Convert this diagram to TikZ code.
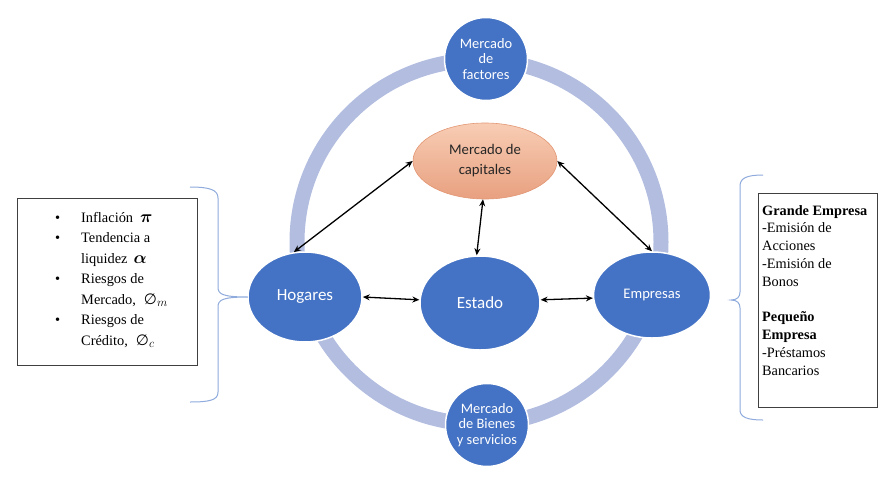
\documentclass[tikz,border=0pt]{standalone}
\usepackage{fontspec}
\setmainfont{Liberation Serif}
\newfontfamily\carl{Carlito}
\newfontfamily\dejavu{DejaVu Sans}
\usetikzlibrary{shapes.geometric,arrows.meta}
\definecolor{officeblue}{RGB}{68,114,196}
\definecolor{ringblue}{RGB}{178,189,224}
\definecolor{braceblue}{RGB}{143,170,220}
\definecolor{salmontop}{RGB}{248,205,180}
\definecolor{salmonbot}{RGB}{232,160,128}
\definecolor{salmonedge}{RGB}{226,150,115}
\newcommand{\bigmath}[1]{{\fontsize{17}{20}\selectfont\mathversion{bold}$#1$}}
\newcommand{\emptysym}[1]{{\dejavu\fontsize{15}{20}\selectfont ∅}{\fontsize{17}{20}\selectfont$_{#1}$}}
\tikzset{
  blueell/.style={ellipse, fill=officeblue, draw=white, line width=1.5pt, inner sep=0pt,
    text=white, font=\carl\fontsize{17}{20}\selectfont},
  bluecirc/.style={circle, fill=officeblue, draw=white, line width=1.5pt, minimum size=83pt,
    inner sep=0pt, text=white, align=center, font=\carl\fontsize{14.4}{15.8}\selectfont},
  capell/.style={ellipse, top color=salmontop, bottom color=salmonbot, draw=salmonedge,
    line width=0.6pt, inner sep=0pt, align=center, text=black!85,
    font=\carl\fontsize{14.7}{20}\selectfont},
  ringline/.style={draw=ringblue, line width=15pt},
  bracestyle/.style={draw=braceblue, line width=1pt},
  boxframe/.style={draw=black!75, line width=0.8pt},
  dblarrow/.style={line width=1.3pt, draw=black,
    arrows={Stealth[length=7pt,width=6pt]-Stealth[length=7pt,width=6pt]}},
  boxtext/.style={inner sep=0pt, anchor=base west}
}
\begin{document}
\begin{tikzpicture}[x=1pt,y=-1pt]
\useasboundingbox (0,0) rectangle (886,482);
% ring
\coordinate (ringc) at (479,242);
\draw[ringline] (ringc) circle[radius=182];
% circles on ring
\node[bluecirc] (fact) at (486,59) {Mercado\\de\\factores};
\node[bluecirc] (bien) at (487,425) {Mercado\\de Bienes\\y servicios};
% ellipses
\node[blueell, minimum width=114pt, minimum height=90pt] (hog) at (305,297) {Hogares};
\node[blueell, minimum width=120pt, minimum height=94pt] (est) at (480,303) {Estado};
\node[blueell, minimum width=117pt, minimum height=86pt, font=\carl\fontsize{14.6}{17}\selectfont] (emp) at (652,295) {Empresas};
\node[capell, minimum width=144pt, minimum height=76pt] (cap) at (485,161) {Mercado de\\capitales};
% arrows
\draw[dblarrow] (hog.104) -- (cap.180);
\draw[dblarrow] (emp.90) -- (cap.0);
\draw[dblarrow] (est.94) -- (cap.267);
\draw[dblarrow] (hog.0) -- (est.177);
\draw[dblarrow] (est.3) -- (emp.183);
% left box
\draw[boxframe] (17,198) rectangle (197,365);
\node[boxtext] (lefttext) at (55,222) {\fontsize{14.4}{20.5}\selectfont
  \begin{tabular}[t]{@{}p{26pt}@{}l@{}}
  \textbullet & Inflación\hspace{7pt}\bigmath{\pi}\\
  \textbullet & Tendencia a\\
   & liquidez\hspace{6pt}\bigmath{\alpha}\\
  \textbullet & Riesgos de\\
   & Mercado,\hspace{8pt}\emptysym{m}\\
  \textbullet & Riesgos de\\
   & Crédito,\hspace{8pt}\emptysym{c}
  \end{tabular}};
% left brace
\coordinate (lbtop) at (190,187);
\coordinate (lbtip) at (248,297);
\coordinate (lbbot) at (190,402);
\draw[bracestyle] (lbtop) .. controls (210,187) and (218,190) .. (218,198) -- (218,287)
  .. controls (218,294) and (222,297) .. (lbtip)
  .. controls (222,297) and (218,300) .. (218,307) -- (218,392)
  .. controls (218,400) and (210,402) .. (lbbot);
% right box
\draw[boxframe] (758,193) rectangle (877,407);
\node[boxtext] (righttext) at (762,215) {\fontsize{14.3}{17.8}\selectfont
  \begin{tabular}[t]{@{}l@{}}
  \textbf{Grande Empresa}\\
  -Emisión de\\
  Acciones\\
  -Emisión de\\
  Bonos\\
  \\
  \textbf{Pequeño}\\
  \textbf{Empresa}\\
  -Préstamos\\
  Bancarios
  \end{tabular}};
% right brace
\coordinate (rbtop) at (763,175);
\coordinate (rbtip) at (731,300);
\coordinate (rbbot) at (763,420);
\draw[bracestyle] (rbtop) .. controls (747,175) and (740,178) .. (740,186) -- (740,292)
  .. controls (740,297) and (737,300) .. (rbtip)
  .. controls (737,300) and (740,303) .. (740,308) -- (740,410)
  .. controls (740,417) and (747,420) .. (rbbot);
\end{tikzpicture}
\end{document}
